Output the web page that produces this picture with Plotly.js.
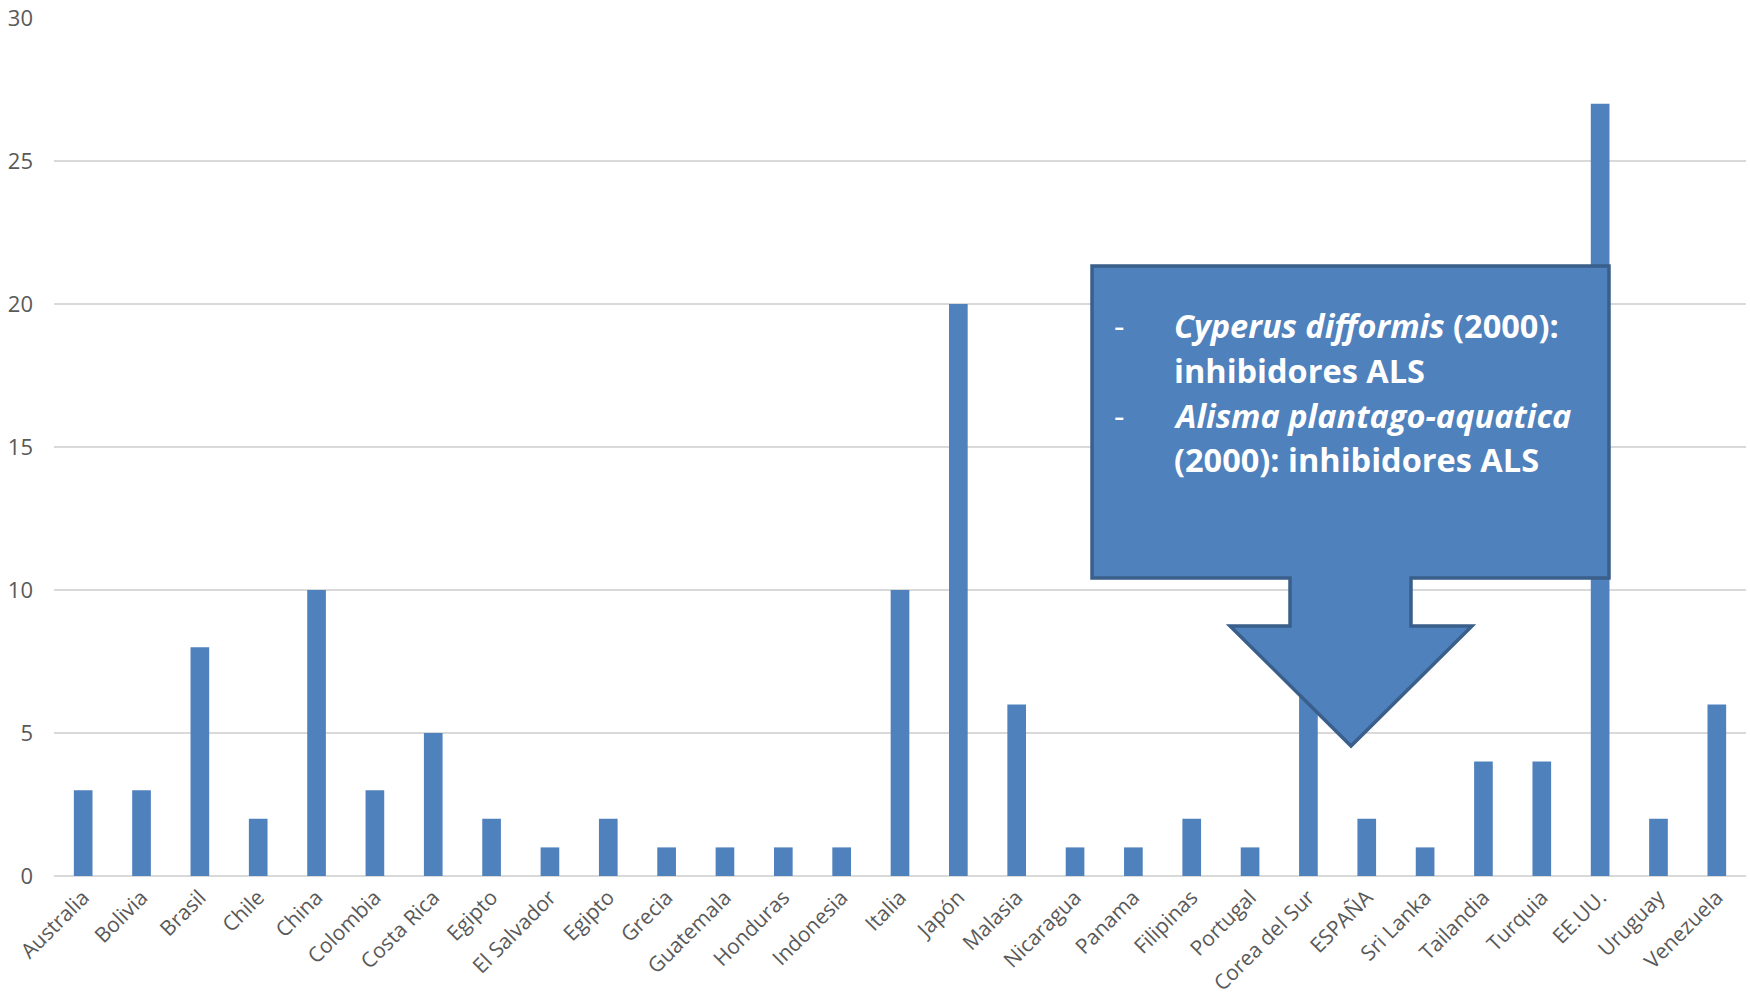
<!DOCTYPE html>
<html>
<head>
<meta charset="utf-8">
<script src="https://cdn.plot.ly/plotly-3.0.1.min.js"></script>
<style>
  html, body { margin: 0; padding: 0; background: #ffffff; }
  #chart { width: 1750px; height: 999px; }
</style>
</head>
<body>
<div id="chart"></div>
<script>
// Countries (x axis) and number of resistant weed cases per country
const countries = [
  "Australia", "Bolivia", "Brasil", "Chile", "China", "Colombia", "Costa Rica",
  "Egipto", "El Salvador", "Egipto", "Grecia", "Guatemala", "Honduras", "Indonesia",
  "Italia", "Japón", "Malasia", "Nicaragua", "Panama", "Filipinas", "Portugal",
  "Corea del Sur", "ESPAÑA", "Sri Lanka", "Tailandia", "Turquia", "EE.UU.",
  "Uruguay", "Venezuela"
];
const cases = [
  3, 3, 8, 2, 10, 3, 5,
  2, 1, 2, 1, 1, 1, 1,
  10, 20, 6, 1, 1, 2, 1,
  10, 2, 1, 4, 4, 27,
  2, 6
];
const yTicks = [0, 5, 10, 15, 20, 25, 30];

// Callout text lines
const calloutLines = [
  "<b><i>Cyperus difformis</i> (2000):</b>",
  "<b>inhibidores ALS</b>",
  "<b><i>Alisma plantago-aquatica</i></b>",
  "<b>(2000): inhibidores ALS</b>"
];
const bulletLines = [0, 2];

// Plot-area geometry in page pixels
const W = 1750, H = 999;
const M = { l: 54, r: 4, t: 18, b: 123 };
const PW = W - M.l - M.r, PH = H - M.t - M.b;
const px = x => (x - M.l) / PW;
const py = y => (H - M.b - y) / PH;

// Down-arrow callout outline (page pixels)
const arrowPts = [
  [1092, 266], [1609, 266], [1609, 578], [1411, 578], [1411, 626],
  [1472, 626], [1351, 746], [1230, 626], [1290, 626], [1290, 578],
  [1092, 578]
];
const arrowPath = "M" + arrowPts.map(p => px(p[0]).toFixed(5) + "," + py(p[1]).toFixed(5)).join(" L") + " Z";

const lineY = [326, 370.5, 415, 459.5];
const textFont = { family: "Open Sans, sans-serif", size: 32.5, color: "#ffffff" };

const annotations = [];
calloutLines.forEach((t, i) => {
  annotations.push({
    xref: "paper", yref: "paper", x: px(1172), y: py(lineY[i]),
    xanchor: "left", yanchor: "middle", showarrow: false,
    text: t, font: textFont
  });
});
bulletLines.forEach(i => {
  annotations.push({
    xref: "paper", yref: "paper", x: px(1119), y: py(lineY[i]),
    xanchor: "center", yanchor: "middle", showarrow: false,
    text: "-", font: textFont
  });
});

const idx = countries.map((_, i) => i);

const trace = {
  type: "bar",
  x: idx,
  y: cases,
  width: 0.32,
  marker: { color: "#4F81BD", line: { width: 0 } },
  hoverinfo: "x+y"
};

const layout = {
  width: W, height: H,
  margin: M,
  paper_bgcolor: "#ffffff",
  plot_bgcolor: "#ffffff",
  showlegend: false,
  font: { family: "Open Sans, sans-serif", color: "#595959" },
  xaxis: {
    range: [-0.5, countries.length - 0.5],
    tickvals: idx,
    ticktext: countries,
    tickangle: -45,
    tickfont: { size: 21, color: "#595959" },
    showgrid: false,
    zeroline: false,
    showline: false,
    ticks: "",
    ticklabelstandoff: 4
  },
  yaxis: {
    range: [0, 30],
    tickvals: yTicks,
    tickfont: { size: 22, color: "#595959" },
    showgrid: true,
    gridcolor: "#D9D9D9",
    gridwidth: 1.5,
    zeroline: true,
    zerolinecolor: "#D9D9D9",
    zerolinewidth: 2,
    showline: false,
    ticks: "",
    ticklabelstandoff: 20
  },
  shapes: [{
    type: "path",
    xref: "paper", yref: "paper",
    path: arrowPath,
    fillcolor: "#4F81BD",
    line: { color: "#3A5F8B", width: 3.5 },
    layer: "above"
  }],
  annotations: annotations
};

Plotly.newPlot("chart", [trace], layout, { displayModeBar: false, staticPlot: true });
</script>
</body>
</html>
